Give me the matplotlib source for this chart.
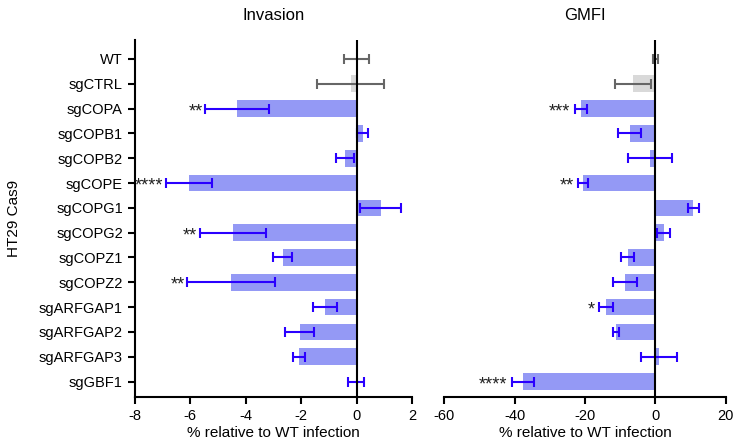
import matplotlib
matplotlib.use("Agg")
import matplotlib.pyplot as plt
import numpy as np

plt.rcParams['font.family'] = ['Liberation Sans', 'DejaVu Sans']
plt.rcParams['axes.unicode_minus'] = False

categories = ["WT", "sgCTRL", "sgCOPA", "sgCOPB1", "sgCOPB2", "sgCOPE", "sgCOPG1",
              "sgCOPG2", "sgCOPZ1", "sgCOPZ2", "sgARFGAP1", "sgARFGAP2", "sgARFGAP3", "sgGBF1"]

invasion_mean = [0.0, -0.22, -4.30, 0.22, -0.42, -6.04, 0.86, -4.46, -2.66, -4.52, -1.15, -2.06, -2.07, -0.03]
invasion_err = [0.45, 1.22, 1.15, 0.20, 0.33, 0.83, 0.74, 1.19, 0.34, 1.58, 0.43, 0.52, 0.22, 0.30]
invasion_stars = ["", "", "**", "", "", "****", "", "**", "", "**", "", "", "", ""]

gmfi_mean = [0.0, -6.45, -21.2, -7.35, -1.6, -20.6, 10.8, 2.4, -7.9, -8.6, -13.9, -11.1, 1.0, -37.7]
gmfi_err = [0.8, 5.1, 1.75, 3.15, 6.3, 1.35, 1.6, 1.8, 1.75, 3.5, 2.0, 0.8, 5.1, 3.15]
gmfi_stars = ["", "", "***", "", "", "**", "", "", "", "", "*", "", "", "****"]

control_names = ["WT", "sgCTRL"]
bar_blue = "#9499F5"
err_blue = "#2A00FF"
bar_grey = "#D9D9D9"
err_grey = "#666666"

fig = plt.figure(figsize=(7.36, 4.48), dpi=100)
ax1 = fig.add_axes([0.183, 0.114, 0.377, 0.797])
ax2 = fig.add_axes([0.6037, 0.114, 0.3823, 0.797])

y = np.arange(len(categories))


def draw(ax, means, errs, stars, xlim, xticks, star_off):
    for i, (c, m, e, s) in enumerate(zip(categories, means, errs, stars)):
        ctrl = c in control_names
        ax.barh(i, m, height=0.67, color=bar_grey if ctrl else bar_blue, zorder=1)
        ax.errorbar(m, i, xerr=e, fmt='none', ecolor=err_grey if ctrl else err_blue,
                    elinewidth=1.5, capsize=3.5, capthick=1.5, zorder=2)
        if s:
            ax.text(m - e - star_off, i + 0.12, s, ha='right', va='center', fontsize=13,
                    color='#222222')
    ax.axvline(0, color='black', lw=1.5, zorder=3)
    ax.set_xlim(*xlim)
    ax.set_xticks(xticks)
    ax.set_ylim(13.62, -0.77)
    ax.spines['top'].set_visible(False)
    ax.spines['right'].set_visible(False)
    for sp in ax.spines.values():
        sp.set_linewidth(1.5)
    ax.tick_params(axis='both', width=1.5, length=5, labelsize=10.5)
    ax.set_xlabel("% relative to WT infection", fontsize=11, labelpad=2)


draw(ax1, invasion_mean, invasion_err, invasion_stars, (-8, 2), [-8, -6, -4, -2, 0, 2], 0.1)
ax1.set_yticks(y)
ax1.set_yticklabels(categories)
ax1.set_title("Invasion", fontsize=12, pad=14)
ax1.set_ylabel("HT29 Cas9", fontsize=11, labelpad=13)

draw(ax2, gmfi_mean, gmfi_err, gmfi_stars, (-60, 20), [-60, -40, -20, 0, 20], 1.2)
ax2.spines['left'].set_visible(False)
ax2.set_yticks([])
ax2.set_title("GMFI", fontsize=12, pad=14)

fig.savefig("out.png", dpi=100)
